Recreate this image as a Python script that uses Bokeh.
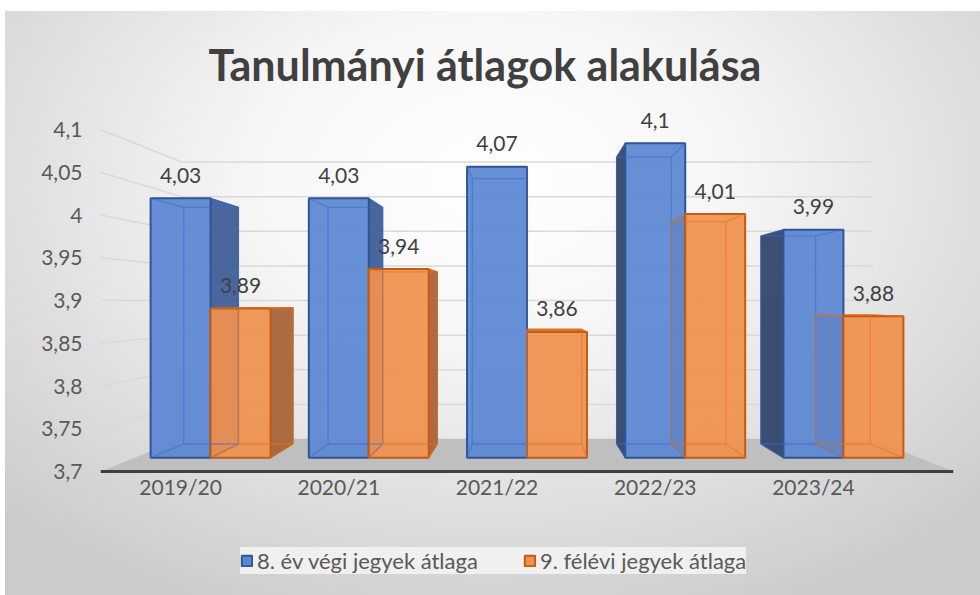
import numpy as np
from bokeh.plotting import figure
from bokeh.models import Range1d, FixedTicker, Legend, LegendItem, ColumnDataSource
from bokeh.core.properties import value
from bokeh.embed import file_html
from bokeh.resources import INLINE

# ---------------- data ----------------
categories = ["2019/20", "2020/21", "2021/22", "2022/23", "2023/24"]
series_names = ["8. év végi jegyek átlaga", "9. félévi jegyek átlaga"]
grade8 = [4.03, 4.03, 4.07, 4.10, 3.99]
grade9 = [3.89, 3.94, 3.86, 4.01, 3.88]
y_ticks = [3.7, 3.75, 3.8, 3.85, 3.9, 3.95, 4.0, 4.05, 4.1]
y_tick_labels = ["3,7", "3,75", "3,8", "3,85", "3,9", "3,95", "4", "4,05", "4,1"]
title_text = "Tanulmányi átlagok alakulása"

# ---------------- perspective helpers ----------------
VX, VY = 2.0, 3.9          # vanishing point (data units)
K_FRONT, K_BACK, K_WALL = 0.08, 0.161, 0.19
BAR_W = 0.379
BASE = 3.7
X0, X1 = -0.48, 4.48
Y0, Y1 = 3.555, 4.1246

def proj(x, y, k):
    return x + k * (VX - x), y + k * (VY - y)

FONT = "Lato"
TXT = "#595959"

bg = ("linear-gradient(#ffffff,#ffffff) 0 0/100% 11px no-repeat, "
      "linear-gradient(#ffffff,#ffffff) 0 0/5px 100% no-repeat, "
      "radial-gradient(ellipse 70% 80% at 50% 30%, #ffffff 0%, #f6f6f6 35%, #cbcbcb 100%)")

p = figure(width=980, height=595, output_backend="svg", toolbar_location=None,
           x_range=Range1d(X0, X1), y_range=Range1d(Y0, Y1),
           min_border_left=100, min_border_right=27, min_border_top=108,
           min_border_bottom=0,
           styles={"background": bg})
p.border_fill_alpha = 0
p.background_fill_alpha = 0
p.outline_line_color = None
p.xgrid.visible = False
p.ygrid.visible = False

p.title.text = title_text
p.title.align = "left"
p.title.offset = 108
p.title.text_font = FONT
p.title.text_font_style = "bold"
p.title.text_font_size = "43px"
p.title.text_color = "#404040"
p.title.standoff = 37

# ---------------- walls: gridlines ----------------
gx, gy = [], []
for g in y_ticks:
    bx0, by = proj(X0, g, K_WALL)
    bx1, _ = proj(X1, g, K_WALL)
    gx.append([X0, bx0, bx1])
    gy.append([g, by, by])
p.multi_line(gx, gy, line_color="#d9d9d9", line_width=1.5)

# ---------------- floor ----------------
fl_x0, fl_y = proj(X0, BASE, K_WALL)
fl_x1, _ = proj(X1, BASE, K_WALL)
p.patch([X0, X1, fl_x1, fl_x0], [BASE, BASE, fl_y, fl_y],
        fill_color="#bfbfbf", line_color=None)

# ---------------- bars ----------------
series = [grade8, grade9]
front_fill = ["#5b87d2", "#f0904f"]
front_line = ["#2f5597", "#c55a11"]
side_right = ["#3f5f98", "#a9643a"]
side_left = ["#33476d", "#b8733f"]
top_col = ["#4a74c0", "#d06a28"]
inner_col = ["#3c6cc4", "#e0731f"]

side_xs, side_ys, side_c = [], [], []
fr_l, fr_r, fr_b, fr_t, fr_f, fr_lc = [], [], [], [], [], []
in_xs, in_ys, in_c = [], [], []
lab_x, lab_y, lab_t = [], [], []
F = lambda x, y: proj(x, y, K_FRONT)
B = lambda x, y: proj(x, y, K_BACK)
for s, vals in enumerate(series):
    for i, v in enumerate(vals):
        x0 = i - BAR_W + s * BAR_W
        x1 = x0 + BAR_W
        if x1 < VX - 1e-9:
            pts = [F(x1, BASE), F(x1, v), B(x1, v), B(x1, BASE)]
            side_xs.append([q[0] for q in pts]); side_ys.append([q[1] for q in pts])
            side_c.append(side_right[s])
        if x0 > VX + 1e-9:
            pts = [F(x0, BASE), F(x0, v), B(x0, v), B(x0, BASE)]
            side_xs.append([q[0] for q in pts]); side_ys.append([q[1] for q in pts])
            side_c.append(side_left[s])
        if v < VY:
            pts = [F(x0, v), F(x1, v), B(x1, v), B(x0, v)]
            side_xs.append([q[0] for q in pts]); side_ys.append([q[1] for q in pts])
            side_c.append(top_col[s])
        fl, fb = F(x0, BASE)
        fr, ft = F(x1, v)
        fr_l.append(fl); fr_r.append(fr); fr_b.append(fb); fr_t.append(ft)
        fr_f.append(front_fill[s]); fr_lc.append(front_line[s])
        bl, bb = B(x0, BASE)
        br, bt = B(x1, v)
        in_xs.append([bl, bl, br, br, bl]); in_ys.append([bb, bt, bt, bb, bb]); in_c.append(inner_col[s])
        for (cx, cy) in [(x0, BASE), (x0, v), (x1, v), (x1, BASE)]:
            a = F(cx, cy); b = B(cx, cy)
            in_xs.append([a[0], b[0]]); in_ys.append([a[1], b[1]]); in_c.append(inner_col[s])
        lab_x.append((fl + fr) / 2); lab_y.append(ft)
        lab_t.append(f"{v:.2f}".rstrip("0").rstrip(".").replace(".", ","))

p.patches(side_xs, side_ys, fill_color=side_c, line_color=side_c, fill_alpha=0.95, line_width=1)
front_src = ColumnDataSource(dict(l=fr_l, r=fr_r, b=fr_b, t=fr_t, f=fr_f, lc=fr_lc))
p.quad(left="l", right="r", bottom="b", top="t", fill_color="f", line_color="lc",
       line_width=2, fill_alpha=0.93, source=front_src)
p.multi_line(in_xs, in_ys, line_color=in_c, line_alpha=0.55, line_width=1.3)

p.text(lab_x, lab_y, text=lab_t, text_align="center", text_baseline="middle",
       y_offset=-23, text_font=value(FONT), text_font_size="21px", text_color="#404040")

# ---------------- axes ----------------
p.yaxis.ticker = FixedTicker(ticks=y_ticks)
p.yaxis.major_label_overrides = dict(zip(y_ticks, y_tick_labels))
p.yaxis.axis_line_color = None
p.yaxis.major_tick_line_color = None
p.yaxis.minor_tick_line_color = None
p.yaxis.major_label_standoff = 12
p.yaxis.major_label_text_font = FONT
p.yaxis.major_label_text_font_size = "21px"
p.yaxis.major_label_text_color = TXT

x_ticks = [proj(i - BAR_W / 2, BASE, K_FRONT)[0] for i in range(len(categories))]
p.xaxis.fixed_location = BASE
p.xaxis.ticker = FixedTicker(ticks=x_ticks)
p.xaxis.major_label_overrides = dict(zip(x_ticks, categories))
p.xaxis.axis_line_color = "#404040"
p.xaxis.axis_line_width = 3
p.xaxis.major_tick_line_color = None
p.xaxis.minor_tick_line_color = None
p.xaxis.major_label_standoff = -4
p.xaxis.major_label_text_font = FONT
p.xaxis.major_label_text_font_size = "21px"
p.xaxis.major_label_text_color = TXT

# ---------------- legend ----------------
dummy = []
for s in range(2):
    r = p.quad(left=[np.nan], right=[np.nan], bottom=[np.nan], top=[np.nan],
               fill_color=front_fill[s], line_color=front_line[s], line_width=2)
    dummy.append(r)
legend = Legend(items=[LegendItem(label=series_names[s], renderers=[dummy[s]]) for s in range(2)],
                orientation="horizontal", location=(140, 21),
                label_text_font=FONT, label_text_font_size="22px", label_text_color=TXT,
                glyph_width=13, glyph_height=13, label_standoff=4, spacing=45,
                padding=14, margin=0,
                background_fill_color="#f3f3f3", background_fill_alpha=0.9,
                border_line_color=None)
p.add_layout(legend, "center")

open("out.html", "w").write(file_html(p, INLINE))
